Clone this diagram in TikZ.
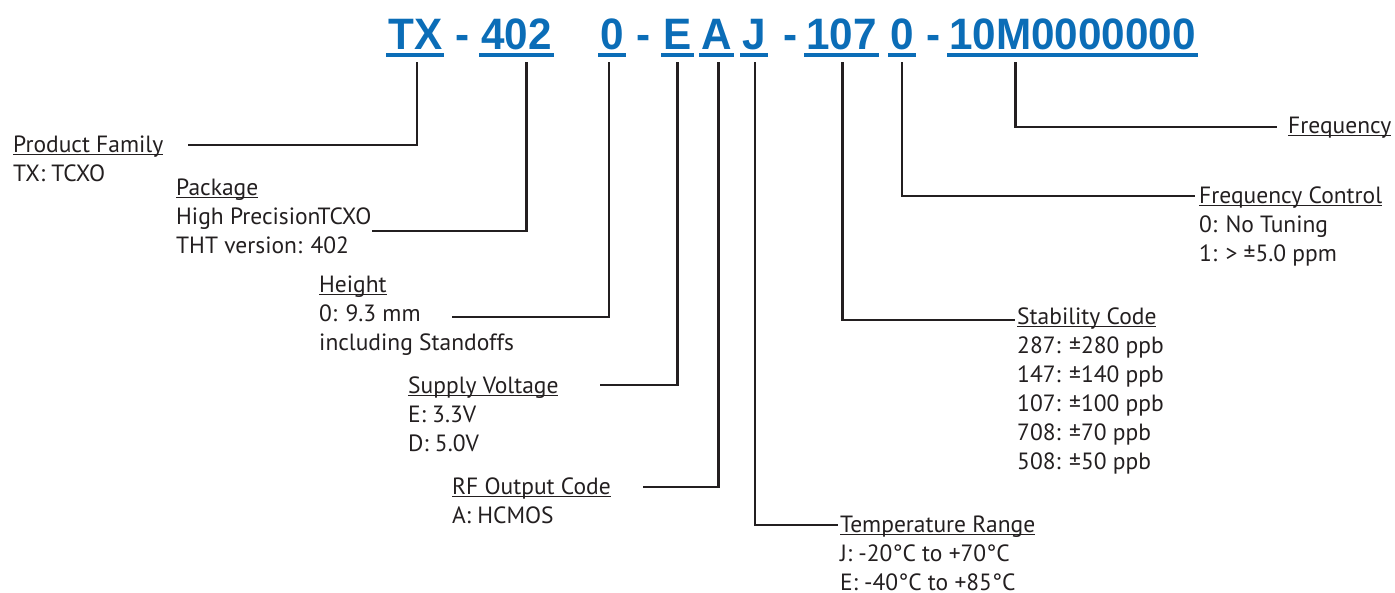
\documentclass[tikz,border=0pt]{standalone}
\usepackage{fontspec}
\setmainfont{PT Sans}
\newfontfamily\codefont[FakeStretch=0.96]{Liberation Sans}
\usetikzlibrary{
  positioning,
  calc
}
\definecolor{codeblue}{HTML}{0B6DB7}
\definecolor{inkgray}{HTML}{231F20}
\newcommand\titleul[1]{\strut\setbox0\hbox{#1}\rlap{\rule[-3pt]{\wd0}{1.3pt}}\box0}

\begin{document}
\begin{tikzpicture}[
    x=1pt, y=-1pt,
    code/.style={
      font=\codefont\bfseries\fontsize{44}{44}\selectfont,
      text=codeblue, inner sep=0pt, text depth=0pt, anchor=base west
    },
    codeline/.style={codeblue, line width=4pt},
    desc/.style={
      font=\fontsize{23.5}{29}\selectfont,
      text=inkgray, align=left, inner sep=0pt,
      anchor=north west, yshift=20.3pt
    },
    lead/.style={inkgray, line width=2.6pt},
  ]
  \useasboundingbox (0,0) rectangle (1395,593);

  % --- Part number ---
  \node[code] (tx)   at (388,50) {TX};
  \node[code] (d1)   at (455,50) {-};
  \node[code] (pkg)  at (481,50) {402};
  \node[code] (hgt)  at (600,50) {0};
  \node[code] (d2)   at (636,50) {-};
  \node[code] (volt) at (663,50) {E};
  \node[code] (rfo)  at (701,50) {A};
  \node[code] (temp) at (742,50) {J};
  \node[code] (d3)   at (783,50) {-};
  \node[code] (stab) at (806,50) {107};
  \node[code] (fctl) at (890,50) {0};
  \node[code] (d4)   at (926,50) {-};
  \node[code] (freq) at (949,50) {10M0000000};

  \foreach \n in {tx,pkg,hgt,volt,rfo,temp,stab,fctl,freq}
    \draw[codeline] ($(\n.south west)+(-2,5)$) -- ($(\n.south east)+(2,5)$);

  % --- Descriptions (placed at first baseline) ---
  \node[desc] (family) at (13,152)
    {\titleul{Product Family}\\TX: TCXO};
  \node[desc] (package) at (176,195)
    {\titleul{Package}\\High PrecisionTCXO\\THT version: 402};
  \node[desc] (height) at (319,292)
    {\titleul{Height}\\0: 9.3 mm\\including Standoffs};
  \node[desc] (supply) at (408,393)
    {\titleul{Supply Voltage}\\E: 3.3V\\D: 5.0V};
  \node[desc] (output) at (452,494)
    {\titleul{RF Output Code}\\A: HCMOS};
  \node[desc] (range) at (840,532)
    {\titleul{Temperature Range}\\J: -20°C to +70°C\\E: -40°C to +85°C};
  \node[desc] (stability) at (1017,324)
    {\titleul{Stability Code}\\287: ±280 ppb\\147: ±140 ppb\\107: ±100 ppb\\708: ±70 ppb\\508: ±50 ppb};
  \node[desc] (control) at (1199,203)
    {\titleul{Frequency Control}\\0: No Tuning\\1: > ±5.0 ppm};
  \node[desc] (frequency) at (1288,133)
    {\titleul{Frequency}};

  % --- Leader ends ---
  \coordinate (familyend)    at (188,145);
  \coordinate (packageend)   at (372,231);
  \coordinate (heightend)    at (452,317);
  \coordinate (supplyend)    at (600,385);
  \coordinate (outputend)    at (643,487);
  \coordinate (rangeend)     at (838,525);
  \coordinate (stabilityend) at (1015,320);
  \coordinate (controlend)   at (1195,196);
  \coordinate (frequencyend) at (1277,127);

  % --- Leaders ---
  \draw[lead] ($(tx.south)+(2,12)$)    |- (familyend);
  \draw[lead] ($(pkg.south)+(10,12)$)  |- (packageend);
  \draw[lead] ($(hgt.south)+(-3,12)$)  |- (heightend);
  \draw[lead] ($(volt.south)+(0,12)$)  |- (supplyend);
  \draw[lead] ($(rfo.south)+(2,12)$)   |- (outputend);
  \draw[lead] ($(temp.south)+(1,12)$)  |- (rangeend);
  \draw[lead] ($(stab.south)+(1,12)$)  |- (stabilityend);
  \draw[lead] ($(fctl.south)+(0,12)$)  |- (controlend);
  \draw[lead] ($(freq.south)+(-57,12)$) |- (frequencyend);

\end{tikzpicture}
\end{document}
